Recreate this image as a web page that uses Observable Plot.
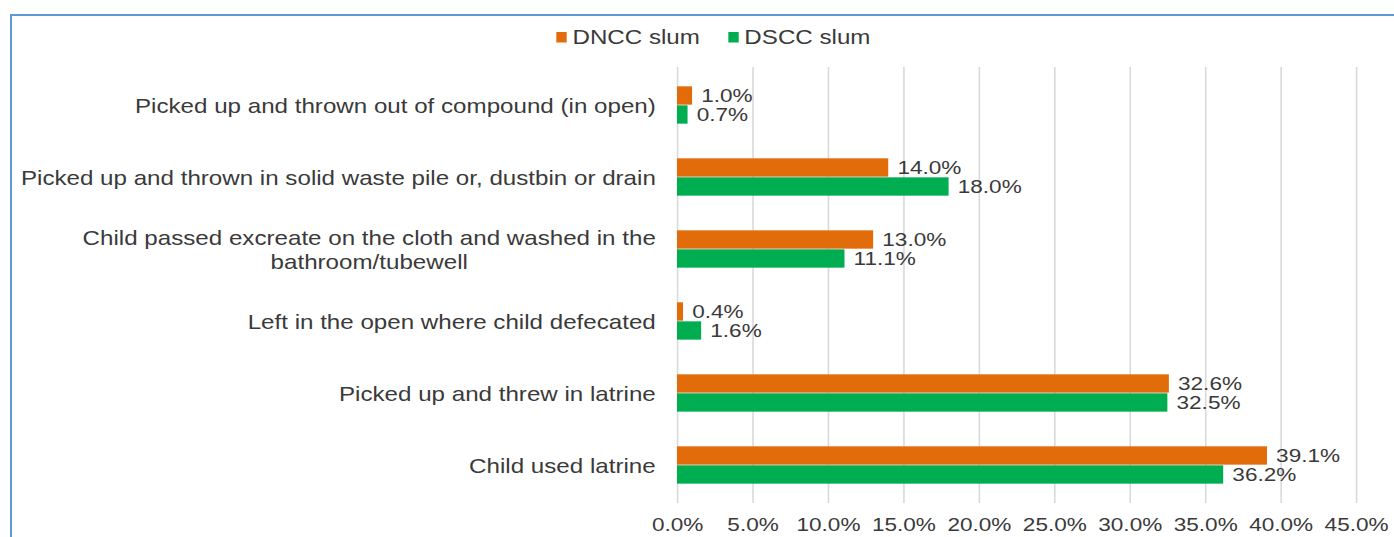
<!DOCTYPE html>
<html>
<head>
<meta charset="utf-8">
<script src="https://cdn.jsdelivr.net/npm/d3@7"></script>
<script src="https://cdn.jsdelivr.net/npm/@observablehq/plot@0.6"></script>
<style>
  html, body { margin: 0; padding: 0; background: #fff; }
  body { width: 1394px; height: 537px; overflow: hidden; position: relative; }
  #frame {
    position: absolute; left: 10px; top: 14px; right: -10px; bottom: -10px;
    border-top: 2px solid #5b9bd5; border-left: 2px solid #5b9bd5;
  }
  /* chart is laid out narrow and widened horizontally as a whole */
  #stretch { position: absolute; left: 0; top: 0; height: 537px; transform-origin: 0 0; }
  #stretch > svg { position: absolute; left: 0; top: 0; }
  #legend { position: absolute; top: 21px; }
  #legend .lg-swatch { margin-right: 23px !important; }
  #legend .lg-swatch > svg { margin-right: 5px !important; }
</style>
</head>
<body>
<div id="frame"></div>
<div id="stretch"><div id="legend"></div></div>
<script>
// Disposal of child faeces, by slum area (percent of households)
const categories = [
  "Picked up and thrown out of compound (in open)",
  "Picked up and thrown in solid waste pile or, dustbin or drain",
  "Child passed excreate on the cloth and washed in the\nbathroom/tubewell",
  "Left in the open where child defecated",
  "Picked up and threw in latrine",
  "Child used latrine"
];
const series = ["DNCC slum", "DSCC slum"];
const dncc = [1.0, 14.0, 13.0, 0.4, 32.6, 39.1];
const dscc = [0.7, 18.0, 11.1, 1.6, 32.5, 36.2];
const xTicks = [0, 5, 10, 15, 20, 25, 30, 35, 40, 45];

const colors = ["#e36c0a", "#00ad50"];
const FONT = "'Liberation Sans', Arial, sans-serif";
const TEXT = "#3a3a3a";
const K = 1.22;                 // horizontal widening of the drawing
const W = 1394 / K;
const H = 537;
const M = {top: 67, right: W - 1356 / K, bottom: 34, left: 677 / K};
const band = (H - M.top - M.bottom) / categories.length;
const barH = 19;
const pad = (band - 2 * barH) / 2;
const CAT_SIZE = 19.8, VAL_SIZE = 18.5, GAP = 18;

const rows = categories.map((cat, i) => ({cat, dncc: dncc[i], dscc: dscc[i]}));
const fmt = v => v.toFixed(1) + "%";

// width of the widest line of each category label, to centre wrapped lines
const ctx = document.createElement("canvas").getContext("2d");
ctx.font = `${CAT_SIZE}px ${FONT}`;
const catMarks = categories.map(c => {
  const w = Math.max(...c.split("\n").map(s => ctx.measureText(s).width));
  return Plot.text([c], {
    y: d => d, text: d => d, frameAnchor: "left",
    textAnchor: "middle", dx: -(GAP + w / 2),
    fontSize: CAT_SIZE, lineHeight: 1.18, fill: TEXT
  });
});

const stretch = document.getElementById("stretch");
stretch.style.width = W + "px";
stretch.style.transform = `scaleX(${K})`;

const chart = Plot.plot({
  width: W, height: H,
  marginTop: M.top, marginRight: M.right, marginBottom: M.bottom, marginLeft: M.left,
  style: {fontFamily: FONT, fontSize: VAL_SIZE + "px", color: TEXT, background: "transparent"},
  x: {domain: [0, 45]},
  y: {domain: categories, padding: 0, axis: null},
  marks: [
    Plot.ruleX(xTicks, {stroke: "#d9d9d9", strokeWidth: 1.3}),
    Plot.barX(rows, {x: "dncc", y: "cat", fill: colors[0], insetTop: pad, insetBottom: pad + barH}),
    Plot.barX(rows, {x: "dscc", y: "cat", fill: colors[1], insetTop: pad + barH, insetBottom: pad}),
    Plot.text(rows, {x: "dncc", y: "cat", text: d => fmt(d.dncc), textAnchor: "start",
      dx: 7, dy: -barH / 2, fill: TEXT, fontSize: VAL_SIZE}),
    Plot.text(rows, {x: "dscc", y: "cat", text: d => fmt(d.dscc), textAnchor: "start",
      dx: 7, dy: barH / 2, fill: TEXT, fontSize: VAL_SIZE}),
    Plot.axisX({ticks: xTicks, tickFormat: fmt, tickSize: 0, tickPadding: 14,
      fontSize: VAL_SIZE, fill: TEXT}),
    ...catMarks
  ]
});
stretch.appendChild(chart);

const legend = Plot.legend({
  color: {domain: series, range: colors},
  className: "lg",
  swatchWidth: 8.5, swatchHeight: 10.5,
  style: {fontFamily: FONT, fontSize: "19.8px", color: TEXT, margin: 0}
});
const legendBox = document.getElementById("legend");
legendBox.style.left = (556 / K) + "px";
legendBox.appendChild(legend);
</script>
</body>
</html>
